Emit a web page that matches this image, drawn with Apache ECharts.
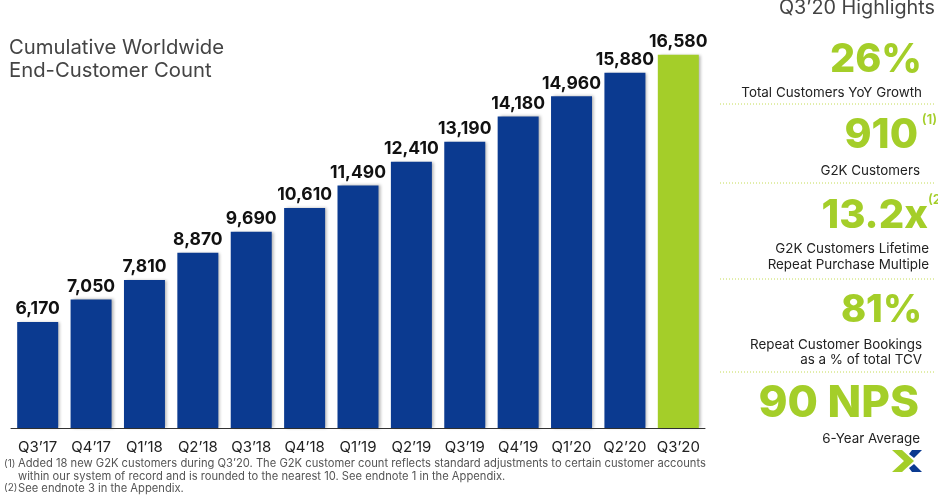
<!DOCTYPE html>
<html>
<head>
<meta charset="UTF-8">
<title>Cumulative Worldwide End-Customer Count</title>
<script src="https://cdn.jsdelivr.net/npm/echarts@6/dist/echarts.min.js"></script>
<style>
html, body { margin: 0; padding: 0; background: #fff; }
#chart { width: 938px; height: 497px; }
</style>
</head>
<body>
<div id="chart"></div>
<script>
var quarters = ["Q3\u201917", "Q4\u201917", "Q1\u201918", "Q2\u201918", "Q3\u201918", "Q4\u201918", "Q1\u201919", "Q2\u201919", "Q3\u201919", "Q4\u201919", "Q1\u201920", "Q2\u201920", "Q3\u201920"];
var customers = [6170, 7050, 7810, 8870, 9690, 10610, 11490, 12410, 13190, 14180, 14960, 15880, 16580];
var titleLines = ["Cumulative Worldwide", "End-Customer Count"];
var footnotes = [
  ["(1)", "Added 18 new G2K customers during Q3\u201920. The G2K customer count reflects standard adjustments to certain customer accounts"],
  ["", "within our system of record and is rounded to the nearest 10. See endnote 1 in the Appendix."],
  ["(2)", "See endnote 3 in the Appendix."]
];

var BLUE = "#0b3a90", GREEN = "#a4ce29", FONT = "Inter, Lato, sans-serif";

// text helpers for the side panel
function txt(x, y, s, size, color, align, weight) {
  return { type: "text", x: x, y: y, silent: true, style: {
    text: s, fontSize: size, fill: color, align: align || "left", verticalAlign: "middle",
    fontFamily: FONT, fontWeight: weight || "normal"
  } };
}
function dots(y) {
  return { type: "line", shape: { x1: 720, y1: y, x2: 936, y2: y }, silent: true,
    style: { stroke: "#c4dc55", lineWidth: 1, lineDash: [1, 2] } };
}

var panel = [
  txt(935, 8, "Q3\u201920 Highlights", 19.8, "#444", "right"),
  txt(922, 60, "26%", 39.5, GREEN, "right", 800),
  txt(922, 92.5, "Total Customers YoY Growth", 13.4, "#222", "right"),
  dots(104),
  txt(918, 136, "910", 41, GREEN, "right", 800),
  txt(937, 120, "(1)", 13, GREEN, "right", 600),
  txt(920, 170.5, "G2K Customers", 13.4, "#222", "right"),
  dots(183),
  txt(928, 216, "13.2x", 40, GREEN, "right", 800),
  txt(928, 200, "(2", 13, GREEN, "left", 600),
  txt(929, 248.5, "G2K Customers Lifetime", 13.4, "#222", "right"),
  txt(929, 264.5, "Repeat Purchase Multiple", 13.4, "#222", "right"),
  dots(279),
  txt(922, 311, "81%", 38, GREEN, "right", 800),
  txt(922, 344.5, "Repeat Customer Bookings", 13.4, "#222", "right"),
  txt(922, 359.5, "as a % of total TCV", 13.4, "#222", "right"),
  dots(372),
  txt(919, 404, "90 NPS", 44, GREEN, "right", 800),
  txt(920, 438.5, "6-Year Average", 13.4, "#222", "right"),
  // logo
  { type: "polygon", silent: true, shape: { points: [[892, 450], [902, 450], [914, 461], [902, 472], [892, 472], [904, 461]] }, style: { fill: GREEN } },
  { type: "polygon", silent: true, shape: { points: [[912, 450], [922, 450], [914, 458], [909, 454]] }, style: { fill: BLUE } },
  { type: "polygon", silent: true, shape: { points: [[909, 468], [914, 464], [922, 472], [912, 472]] }, style: { fill: BLUE } }
];

var left = titleLines.map(function (s, i) {
  return txt(9, 48 + i * 23, s, 20.3, "#444");
});
footnotes.forEach(function (f, i) {
  var y = 464 + i * 12.2;
  left.push(txt(4, y, f[0], 10, "#555"));
  left.push(txt(18, y, f[1], 11.2, "#555"));
});

var chart = echarts.init(document.getElementById("chart"));
chart.setOption({
  animation: false,
  textStyle: { fontFamily: FONT },
  grid: { left: 11, top: 44, width: 694, height: 384 },
  xAxis: {
    type: "category",
    data: quarters,
    axisTick: { show: false },
    axisLine: { lineStyle: { color: "#333", width: 1 } },
    axisLabel: { color: "#222", fontSize: 15, margin: 12, interval: 0 }
  },
  yAxis: { type: "value", min: 2040, max: 17000, show: false },
  series: [{
    type: "bar",
    barWidth: 41,
    data: customers.map(function (v, i) {
      return { value: v, itemStyle: { color: i === customers.length - 1 ? GREEN : BLUE } };
    }),
    itemStyle: { shadowColor: "rgba(0,0,0,0.3)", shadowBlur: 3, shadowOffsetX: 2, shadowOffsetY: 0 },
    label: {
      show: true, position: "top", distance: 4, color: "#111", fontSize: 17.5, fontWeight: 700,
      formatter: function (p) { return p.value.toLocaleString("en-US"); }
    }
  }],
  graphic: { elements: left.concat(panel) }
});
</script>
</body>
</html>
